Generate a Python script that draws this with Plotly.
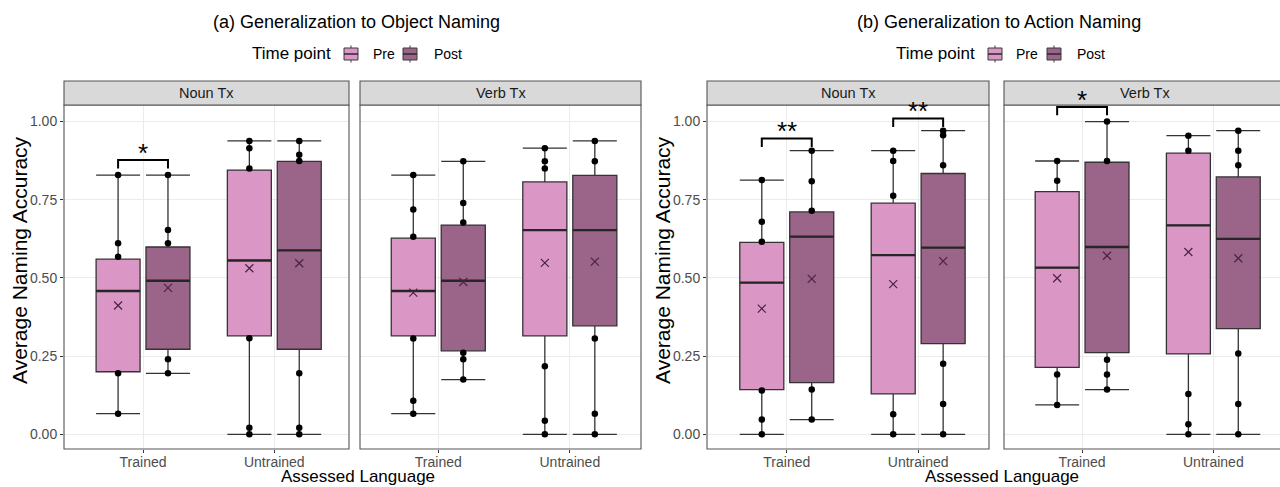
import plotly.graph_objects as go

# ---------------- data ----------------
panel_titles = ["(a) Generalization to Object Naming", "(b) Generalization to Action Naming"]
facet_names = ["Noun Tx", "Verb Tx", "Noun Tx", "Verb Tx"]
categories = ["Trained", "Untrained"]
timepoints = ["Pre", "Post"]

# 16 groups: facet (a-Noun, a-Verb, b-Noun, b-Verb) x category x timepoint
group_facet = [0, 0, 0, 0, 1, 1, 1, 1, 2, 2, 2, 2, 3, 3, 3, 3]
group_category = [0, 0, 1, 1] * 4
group_timepoint = [0, 1] * 8

lower_whisker = [0.066, 0.195, 0.000, 0.000, 0.066, 0.175, 0.000, 0.000,
                 0.000, 0.047, 0.000, 0.000, 0.094, 0.143, 0.000, 0.000]
q1_values = [0.200, 0.272, 0.315, 0.272, 0.315, 0.267, 0.315, 0.347,
             0.143, 0.165, 0.129, 0.290, 0.214, 0.261, 0.257, 0.338]
median_values = [0.458, 0.491, 0.556, 0.588, 0.458, 0.491, 0.653, 0.653,
                 0.485, 0.632, 0.573, 0.597, 0.533, 0.599, 0.668, 0.625]
q3_values = [0.560, 0.599, 0.845, 0.873, 0.627, 0.669, 0.807, 0.828,
             0.614, 0.711, 0.739, 0.834, 0.776, 0.870, 0.899, 0.823]
upper_whisker = [0.829, 0.829, 0.938, 0.938, 0.829, 0.873, 0.915, 0.938,
                 0.813, 0.907, 0.907, 0.971, 0.874, 1.000, 0.955, 0.971]
mean_values = [0.412, 0.468, 0.531, 0.547, 0.453, 0.487, 0.548, 0.552,
               0.402, 0.497, 0.480, 0.554, 0.499, 0.571, 0.583, 0.563]
visible_points = [
    [0.829, 0.611, 0.568, 0.195, 0.066],
    [0.829, 0.653, 0.611, 0.240, 0.195],
    [0.938, 0.915, 0.850, 0.307, 0.021, 0.000],
    [0.938, 0.894, 0.874, 0.195, 0.021, 0.000],
    [0.829, 0.719, 0.632, 0.306, 0.107, 0.066],
    [0.873, 0.740, 0.677, 0.261, 0.240, 0.175],
    [0.915, 0.873, 0.850, 0.218, 0.043, 0.000],
    [0.938, 0.873, 0.306, 0.066, 0.000],
    [0.813, 0.680, 0.616, 0.140, 0.047, 0.000],
    [0.907, 0.809, 0.715, 0.143, 0.047],
    [0.907, 0.874, 0.763, 0.064, 0.000],
    [0.971, 0.956, 0.860, 0.226, 0.097, 0.000],
    [0.874, 0.811, 0.191, 0.094],
    [1.000, 0.874, 0.238, 0.191, 0.143],
    [0.955, 0.907, 0.129, 0.032, 0.000],
    [0.971, 0.907, 0.860, 0.258, 0.097, 0.000],
]

# significance brackets: facet index, category index, bracket height, label
sig_facet = [0, 2, 2, 3]
sig_category = [0, 0, 1, 0]
sig_height = [0.877, 0.946, 1.010, 1.047]
sig_label = ["*", "**", "**", "*"]

y_ticks = [0.0, 0.25, 0.50, 0.75, 1.00]
y_ticktext = ["0.00", "0.25", "0.50", "0.75", "1.00"]

# ---------------- styling / layout ----------------
W, H = 1280, 487
FILL = {"Pre": "#DA97C5", "Post": "#9B6489"}
DODGE = 0.19
BOXW = 0.335
FONT = "Liberation Sans, Arial, sans-serif"


def pxx(x):
    return x / W


def pyy(y):
    return 1 - y / H


facet_px = [(64, 349), (360, 641), (707, 989), (1004, 1280)]
facet_range = [[0.398, 2.569], [0.405, 2.541], [0.393, 2.539], [0.405, 2.508]]
PANEL_TOP, PANEL_BOT, STRIP_TOP = 105, 449, 81
Y_RANGE = [-0.047, 1.053]

fig = go.Figure()


def axname(i):
    return ("x" if i == 0 else f"x{i+1}"), ("y" if i == 0 else f"y{i+1}")


# boxes
for f in range(4):
    xa, ya = axname(f)
    for t, tp in enumerate(timepoints):
        idx = [g for g in range(16) if group_facet[g] == f and group_timepoint[g] == t]
        xs = [group_category[g] + 1 + (DODGE if t == 1 else -DODGE) for g in idx]
        fig.add_trace(go.Box(
            x=xs,
            q1=[q1_values[g] for g in idx],
            median=[median_values[g] for g in idx],
            q3=[q3_values[g] for g in idx],
            lowerfence=[lower_whisker[g] for g in idx],
            upperfence=[upper_whisker[g] for g in idx],
            width=BOXW, whiskerwidth=1,
            fillcolor=FILL[tp], line=dict(color="#333333", width=1.3),
            boxpoints=False, showlegend=False, hoverinfo="skip",
            xaxis=xa, yaxis=ya,
        ))

# medians (thicker), points, means
for f in range(4):
    xa, ya = axname(f)
    idx = [g for g in range(16) if group_facet[g] == f]
    mx, my, px_, py_, ex, ey = [], [], [], [], [], []
    for g in idx:
        c = group_category[g] + 1 + (DODGE if group_timepoint[g] == 1 else -DODGE)
        mx += [c - BOXW / 2, c + BOXW / 2, None]
        my += [median_values[g], median_values[g], None]
        for v in visible_points[g]:
            px_.append(c)
            py_.append(v)
        ex.append(c)
        ey.append(mean_values[g])
    fig.add_trace(go.Scatter(x=mx, y=my, mode="lines", line=dict(color="#262626", width=2.4),
                             showlegend=False, hoverinfo="skip", xaxis=xa, yaxis=ya))
    fig.add_trace(go.Scatter(x=px_, y=py_, mode="markers",
                             marker=dict(color="black", size=6.5),
                             showlegend=False, hoverinfo="skip", xaxis=xa, yaxis=ya))
    fig.add_trace(go.Scatter(x=ex, y=ey, mode="markers",
                             marker=dict(symbol="x-thin", size=8, line=dict(color="#4a2343", width=1.2)),
                             showlegend=False, hoverinfo="skip", xaxis=xa, yaxis=ya))

# significance brackets
annotations = []
TICKDROP = 0.027
for k in range(len(sig_label)):
    f = sig_facet[k]
    xa, ya = axname(f)
    c = sig_category[k] + 1
    h = sig_height[k]
    fig.add_trace(go.Scatter(
        x=[c - DODGE, c - DODGE, c + DODGE, c + DODGE],
        y=[h - TICKDROP, h, h, h - TICKDROP],
        mode="lines", line=dict(color="black", width=2),
        cliponaxis=False, showlegend=False, hoverinfo="skip", xaxis=xa, yaxis=ya))
    annotations.append(dict(x=c, y=h, xref=xa, yref=ya, text=sig_label[k], showarrow=False,
                            xanchor="center", yanchor="bottom", yshift=-10,
                            font=dict(family=FONT, size=26, color="black")))

# axes
layout = dict(width=W, height=H, margin=dict(l=0, r=0, t=0, b=0),
              paper_bgcolor="white", plot_bgcolor="white",
              font=dict(family=FONT))
for f in range(4):
    xk = "xaxis" if f == 0 else f"xaxis{f+1}"
    yk = "yaxis" if f == 0 else f"yaxis{f+1}"
    xa, ya = axname(f)
    layout[xk] = dict(domain=[pxx(facet_px[f][0]), pxx(facet_px[f][1])], anchor=ya,
                      range=facet_range[f], tickvals=[1, 2], ticktext=categories,
                      showgrid=True, gridcolor="#EBEBEB", gridwidth=1, zeroline=False,
                      showline=False, ticks="outside", ticklen=3, tickcolor="#333333",
                      ticklabelstandoff=-3,
                      tickfont=dict(size=14, color="#4D4D4D", family=FONT))
    layout[yk] = dict(domain=[pyy(PANEL_BOT), pyy(PANEL_TOP)], anchor=xa,
                      range=Y_RANGE, tickvals=y_ticks, ticktext=y_ticktext,
                      showgrid=True, gridcolor="#EBEBEB", gridwidth=1, zeroline=False,
                      showline=False,
                      ticks="outside" if f in (0, 2) else "", ticklen=3, tickcolor="#333333",
                      showticklabels=f in (0, 2),
                      tickfont=dict(size=14, color="#4D4D4D", family=FONT))

shapes = []
for f in range(4):
    x0, x1 = facet_px[f]
    if f == 3:
        x1 = 1290
    shapes.append(dict(type="rect", xref="paper", yref="paper",
                       x0=pxx(x0), x1=pxx(x1), y0=pyy(PANEL_BOT), y1=pyy(PANEL_TOP),
                       line=dict(color="#555555", width=1.1), fillcolor="rgba(0,0,0,0)"))
    shapes.append(dict(type="rect", xref="paper", yref="paper",
                       x0=pxx(x0), x1=pxx(x1), y0=pyy(PANEL_TOP), y1=pyy(STRIP_TOP),
                       line=dict(color="#555555", width=1.1), fillcolor="#D9D9D9"))
    cx = (x0 + facet_px[f][1]) / 2 if f < 3 else (x0 + 1286) / 2
    annotations.append(dict(x=pxx(cx), y=pyy((PANEL_TOP + STRIP_TOP) / 2),
                            xref="paper", yref="paper", xanchor="center", yanchor="middle",
                            text=facet_names[f], showarrow=False,
                            font=dict(size=14.5, color="#1A1A1A", family=FONT)))

# panel titles, axis titles, legends
title_x = [356, 999]
legend_title_x = [250, 894]
legend_icon_x = [(344, 403), (988, 1047)]
legend_label_x = [(371, 432), (1014, 1075)]
ytitle_x = [19, 662]
xtitle_x = [358, 1002]
for p in range(2):
    annotations.append(dict(x=pxx(title_x[p]), y=pyy(22), xref="paper", yref="paper",
                            xanchor="center", yanchor="middle",
                            text=panel_titles[p], showarrow=False,
                            font=dict(size=18, color="black", family=FONT)))
    annotations.append(dict(x=pxx(legend_title_x[p]), y=pyy(54), xref="paper", yref="paper",
                            xanchor="left", yanchor="middle", text="Time point", showarrow=False,
                            font=dict(size=17, color="black", family=FONT)))
    for t, tp in enumerate(timepoints):
        ix = legend_icon_x[p][t]
        shapes.append(dict(type="line", xref="paper", yref="paper",
                           x0=pxx(ix + 7), x1=pxx(ix + 7), y0=pyy(45.5), y1=pyy(62.5),
                           line=dict(color="#3a3a3a", width=1)))
        shapes.append(dict(type="rect", xref="paper", yref="paper",
                           x0=pxx(ix), x1=pxx(ix + 14), y0=pyy(60), y1=pyy(48),
                           line=dict(color="#3a3a3a", width=1), fillcolor=FILL[tp]))
        shapes.append(dict(type="line", xref="paper", yref="paper",
                           x0=pxx(ix), x1=pxx(ix + 14), y0=pyy(54), y1=pyy(54),
                           line=dict(color="#2a2a2a", width=1.5)))
        annotations.append(dict(x=pxx(legend_label_x[p][t]), y=pyy(54), xref="paper", yref="paper",
                                xanchor="left", yanchor="middle", text=tp, showarrow=False,
                                font=dict(size=14, color="black", family=FONT)))
    annotations.append(dict(x=pxx(ytitle_x[p]), y=pyy(260), xref="paper", yref="paper",
                            xanchor="center", yanchor="middle",
                            text="Average Naming Accuracy", textangle=-90, showarrow=False,
                            font=dict(size=21, color="black", family=FONT)))
    annotations.append(dict(x=pxx(xtitle_x[p]), y=pyy(476), xref="paper", yref="paper",
                            xanchor="center", yanchor="middle",
                            text="Assessed Language", showarrow=False,
                            font=dict(size=17, color="black", family=FONT)))

layout["shapes"] = shapes
layout["annotations"] = annotations
fig.update_layout(**layout)
fig.write_html("out.html")
